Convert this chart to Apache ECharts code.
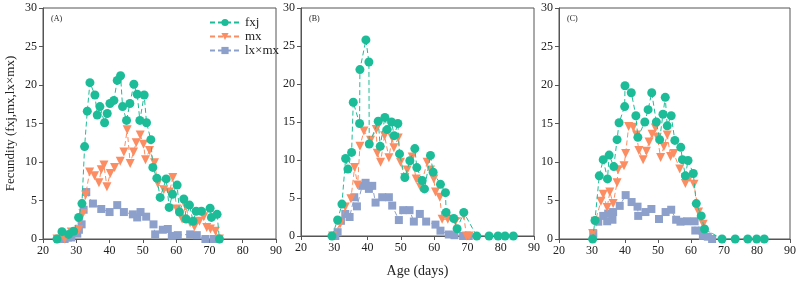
<!DOCTYPE html>
<html lang="en">
<head>
    <meta charset="UTF-8">
    <title>Fecundity</title>
    <script src="https://cdn.jsdelivr.net/npm/echarts@6/dist/echarts.min.js"></script>
    <style>
        html, body { margin: 0; padding: 0; background: #fff; }
    </style>
</head>
<body>
<div id="chart" style="width: 799px;height: 283px;"></div>
<script>
    // ---- panel A ----
    var ageA_fxj = [24.2, 25.7, 27.7, 29.2, 30.7, 31.7, 32.5, 33.3, 34.1, 35.6, 36.3, 37.1, 38.5, 39.3, 40.1, 41.3, 42.3, 43.3, 43.9, 45.1, 46.1, 47.3, 48.3, 49.1, 50.4, 51.1, 52.4, 53.0, 54.2, 55.2, 57.0, 57.9, 58.9, 60.3, 61.0, 62.3, 63.0, 64.0, 65.1, 66.0, 67.6, 70.2, 70.6, 72.3, 73.0];
    var valA_fxj = [0, 0.95, 0.6, 1.0, 2.8, 4.6, 12.0, 16.6, 20.3, 18.7, 16.1, 17.2, 15.1, 16.3, 17.6, 18.0, 20.6, 21.2, 17.2, 15.4, 17.6, 20.1, 18.8, 15.4, 18.7, 15.1, 12.9, 9.3, 7.9, 5.4, 7.8, 4.1, 5.8, 7.0, 3.5, 5.2, 2.6, 4.4, 2.3, 3.6, 3.6, 4.0, 2.8, 3.2, 0];
    var ageA_mx = [24.2, 26.5, 28.5, 30.7, 32.0, 32.8, 34.0, 35.5, 36.8, 37.5, 38.3, 39.2, 40.2, 41.5, 43.2, 44.3, 45.3, 46.2, 47.2, 48.0, 49.2, 50.2, 50.8, 52.0, 53.5, 54.5, 56.3, 58.0, 59.0, 60.2, 61.8, 62.8, 64.2, 65.5, 67.0, 68.3, 69.2, 70.3, 71.8, 73.0];
    var valA_mx = [0, 0, 0.9, 1.2, 3.3, 5.7, 8.7, 8.2, 7.3, 9.0, 9.6, 6.8, 8.5, 9.3, 10.1, 11.3, 14.2, 9.8, 11.3, 12.5, 13.5, 12.3, 10.3, 11.5, 9.9, 7.2, 6.4, 6.1, 8.0, 3.9, 2.6, 4.3, 2.1, 1.6, 2.3, 2.9, 1.5, 1.3, 1.0, 0];
    var ageA_lx = [24.5, 26.5, 27.5, 28.5, 30.3, 30.8, 31.6, 32.2, 33.0, 35.0, 37.5, 40.0, 42.3, 44.3, 47.0, 48.3, 49.3, 51.0, 53.2, 53.7, 56.0, 57.5, 58.7, 60.5, 64.2, 66.2, 68.8, 71.3, 72.7];
    var valA_lx = [0, 0, 0.2, 0.2, 0.7, 1.2, 1.9, 3.8, 6.1, 4.6, 3.9, 3.5, 4.4, 3.5, 3.2, 2.8, 3.5, 2.9, 1.9, 0.6, 1.2, 1.3, 0.4, 0.5, 0.6, 0.5, 0, 0, 0];

    // ---- panel B ----
    var ageB_fxj = [29.3, 31.0, 32.3, 33.4, 34.1, 35.2, 35.7, 37.6, 37.7, 39.5, 40.4, 40.5, 43.2, 43.8, 45.2, 45.9, 47.2, 48.0, 49.1, 49.6, 51.2, 52.7, 54.2, 54.8, 56.4, 57.1, 58.9, 59.7, 61.9, 63.4, 63.6, 65.9, 66.9, 68.9, 72.8, 76.5, 79.2, 81.3, 83.8];
    var valB_fxj = [0, 2.1, 4.2, 10.2, 8.8, 11.0, 17.6, 14.8, 21.9, 25.8, 22.9, 12.1, 15.1, 11.8, 15.6, 14.0, 15.0, 13.2, 14.8, 10.8, 7.7, 9.9, 11.5, 9.0, 7.3, 6.2, 10.6, 8.4, 6.8, 5.7, 3.1, 2.3, 0.95, 3.1, 0, 0, 0, 0, 0];
    var ageB_mx = [29.5, 31.8, 33.3, 35.0, 36.1, 37.0, 37.7, 38.9, 40.9, 42.6, 42.9, 43.9, 45.1, 46.4, 47.4, 47.9, 49.2, 49.9, 51.2, 51.9, 53.4, 54.6, 55.9, 57.9, 58.9, 59.9, 60.4, 61.7, 62.4, 64.1, 66.4, 68.9, 69.7, 70.5];
    var valB_mx = [0, 1.6, 3.8, 4.9, 9.0, 6.7, 11.8, 13.8, 12.6, 14.0, 10.9, 9.7, 13.2, 10.3, 12.9, 11.6, 12.9, 9.7, 7.7, 8.7, 10.4, 7.5, 6.4, 9.7, 8.7, 7.5, 5.8, 5.1, 2.2, 2.2, 1.9, 2.7, 0, 0];
    var ageB_lx = [30.3, 31.0, 32.0, 33.3, 34.6, 36.0, 36.8, 38.4, 39.4, 40.4, 41.4, 42.4, 44.4, 46.4, 47.4, 49.4, 50.7, 52.6, 53.9, 55.7, 57.6, 60.4, 61.9, 64.4, 66.1, 68.7, 70.4];
    var valB_lx = [0, 0.5, 2.0, 2.9, 2.5, 5.1, 3.9, 6.6, 7.0, 6.2, 6.6, 4.4, 5.1, 5.1, 4.0, 2.1, 3.4, 3.4, 1.9, 2.9, 1.9, 1.5, 0.7, 0.2, 0.1, 0, 0];

    // ---- panel C ----
    var ageC_fxj = [30.2, 30.9, 32.2, 33.4, 34.7, 35.2, 36.6, 37.6, 38.2, 39.9, 40.0, 41.9, 43.3, 43.9, 46.0, 47.0, 48.1, 49.5, 50.5, 51.5, 52.2, 52.8, 54.0, 55.1, 56.9, 57.4, 58.3, 59.1, 60.7, 61.6, 63.1, 64.1, 69.4, 73.4, 77.2, 79.9, 82.2];
    var valC_fxj = [0, 2.4, 8.2, 10.3, 7.8, 10.9, 9.4, 12.9, 15.1, 17.2, 19.9, 19.0, 16.0, 13.2, 15.2, 16.8, 19.0, 15.2, 12.9, 16.2, 18.4, 14.7, 16.0, 12.8, 11.9, 10.3, 8.2, 10.2, 8.5, 4.6, 3.0, 1.3, 0, 0, 0, 0, 0];
    var ageC_mx = [30.2, 31.0, 32.7, 33.4, 34.6, 35.4, 36.4, 37.6, 37.9, 39.7, 40.2, 41.1, 42.5, 43.5, 44.2, 45.5, 46.5, 47.3, 48.2, 49.2, 49.8, 50.8, 51.8, 52.8, 53.8, 54.8, 56.6, 58.3, 59.6, 60.9, 62.3, 63.7];
    var valC_mx = [0.7, 2.3, 4.9, 5.8, 4.1, 6.1, 4.6, 7.3, 9.0, 9.5, 11.1, 14.6, 14.5, 13.5, 11.5, 10.3, 11.4, 12.6, 13.6, 14.4, 13.2, 10.6, 12.0, 13.5, 10.7, 11.1, 9.1, 7.2, 8.0, 7.1, 3.5, 1.9];
    var ageC_lx = [30.4, 31.9, 33.4, 34.6, 34.9, 36.2, 36.4, 38.4, 40.2, 42.0, 43.8, 44.0, 46.2, 48.0, 50.3, 52.3, 54.0, 55.5, 56.8, 58.8, 61.1, 61.3, 63.4, 63.6, 65.1, 66.4];
    var valC_lx = [0.7, 2.25, 3.0, 2.3, 3.3, 2.5, 3.5, 4.3, 5.7, 4.8, 4.2, 3.0, 3.5, 3.9, 2.6, 3.5, 3.8, 2.5, 2.25, 2.3, 2.3, 1.1, 1.1, 0.4, 0.3, 0];

    var xTicks = [20, 30, 40, 50, 60, 70, 80, 90];
    var yTicks = [0, 5, 10, 15, 20, 25, 30];
    var seriesNames = ['fxj', 'mx', 'lx×mx'];

    var font = '"Liberation Serif", "Times New Roman", serif';
    var colors = ['#1DBC98', '#FC8D62', '#8DA0CB'];
    var symbols = ['circle', 'triangle', 'rect'];
    var sizes = [9, 9, 8];

    function zip(xs, ys) {
        var out = [];
        for (var i = 0; i < xs.length; i++) out.push([xs[i], ys[i]]);
        return out;
    }

    var panels = [
        { left: 43, label: '(A)', data: [zip(ageA_fxj, valA_fxj), zip(ageA_mx, valA_mx), zip(ageA_lx, valA_lx)] },
        { left: 301, label: '(B)', data: [zip(ageB_fxj, valB_fxj), zip(ageB_mx, valB_mx), zip(ageB_lx, valB_lx)] },
        { left: 559, label: '(C)', data: [zip(ageC_fxj, valC_fxj), zip(ageC_mx, valC_mx), zip(ageC_lx, valC_lx)] }
    ];

    var grid = [], xAxis = [], yAxis = [], series = [], titles = [];
    panels.forEach(function (p, i) {
        grid.push({ left: p.left, top: 8, width: 233, height: 231, show: true, borderColor: '#555', borderWidth: 1 });
        xAxis.push({
            type: 'value', gridIndex: i,
            min: xTicks[0], max: xTicks[xTicks.length - 1], interval: 10,
            name: i == 1 ? 'Age (days)' : '',
            nameLocation: 'middle', nameGap: 28,
            nameTextStyle: { fontFamily: font, fontSize: 14, color: '#222' },
            axisLine: { lineStyle: { color: '#555', width: 1 } },
            axisTick: { inside: false, length: 4, lineStyle: { color: '#555' } },
            axisLabel: { fontFamily: font, fontSize: 12, color: '#222', margin: 6 },
            splitLine: { show: false }
        });
        yAxis.push({
            type: 'value', gridIndex: i,
            min: yTicks[0], max: yTicks[yTicks.length - 1], interval: 5,
            name: i == 0 ? 'Fecundity (fxj,mx,lx×mx)' : '',
            nameLocation: 'middle', nameGap: 26,
            nameTextStyle: { fontFamily: font, fontSize: 13, color: '#222' },
            axisLine: { show: true, lineStyle: { color: '#555', width: 1 } },
            axisTick: { show: true, inside: false, length: 4, lineStyle: { color: '#555' } },
            axisLabel: { fontFamily: font, fontSize: 12, color: '#222', margin: 6 },
            splitLine: { show: false }
        });
        titles.push({
            text: p.label, left: p.left + 3, top: 10,
            textStyle: { fontFamily: font, fontSize: 8, fontWeight: 'normal', color: '#222' }
        });
        for (var k = 0; k < 3; k++) {
            series.push({
                name: seriesNames[k],
                type: 'line',
                xAxisIndex: i, yAxisIndex: i,
                data: p.data[k],
                symbol: symbols[k],
                symbolSize: sizes[k],
                symbolRotate: k == 1 ? 180 : 0,
                showAllSymbol: true,
                color: colors[k],
                lineStyle: { width: 1, type: [5, 3], color: colors[k] },
                itemStyle: { color: colors[k] },
                z: 3 - k,
                animation: false
            });
        }
    });

    var option = {
        animation: false,
        title: titles,
        legend: {
            data: seriesNames,
            orient: 'vertical',
            left: 204, top: 11,
            itemWidth: 30, itemHeight: 9, itemGap: 1,
            textStyle: { fontFamily: font, fontSize: 13, lineHeight: 13, color: '#222' }
        },
        grid: grid,
        xAxis: xAxis,
        yAxis: yAxis,
        series: series
    };

    var myChart = echarts.init(document.getElementById('chart'));
    myChart.setOption(option);
    window.onresize = function () { myChart.resize(); };
</script>
</body>
</html>
